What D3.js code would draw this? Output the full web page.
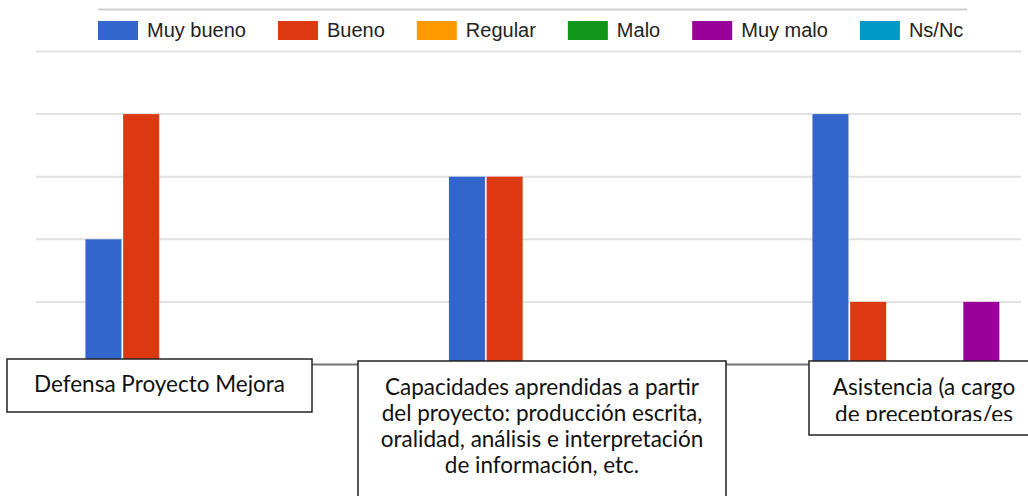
<!DOCTYPE html>
<html><head><meta charset="utf-8">
<script src="https://cdn.jsdelivr.net/npm/d3@7"></script>
<style>body{margin:0;background:#fff;overflow:hidden}</style>
</head><body>
<svg id="c" width="1028" height="496"></svg>
<script>
// ---- data ----
const categories = ["Defensa Proyecto Mejora", "Capacidades aprendidas", "Asistencia"];
const seriesNames = ["Muy bueno", "Bueno", "Regular", "Malo", "Muy malo", "Ns/Nc"];
const seriesColors = ["#3366cc", "#dc3912", "#ff9900", "#109618", "#990099", "#0099c6"];
const muyBueno = [2, 3, 4];
const bueno    = [4, 3, 1];
const regular  = [0, 0, 0];
const malo     = [0, 0, 0];
const muyMalo  = [0, 0, 1];
const nsnc     = [0, 0, 0];
const gridValues = [1, 2, 3, 4, 5];
const labelLines = [
  ["Defensa Proyecto Mejora"],
  ["Capacidades aprendidas a partir", "del proyecto: producción escrita,", "oralidad, análisis e interpretación", "de información, etc."],
  ["Asistencia (a cargo", "de preceptoras/es"]
];

const seriesValues = [muyBueno, bueno, regular, malo, muyMalo, nsnc];

const svg = d3.select("#c");
const W = 1028, H = 496;

const y = d3.scaleLinear().domain([0, 5]).range([364.5, 51.5]);
const x0 = d3.scaleBand().domain(categories).range([16, 1106.5]).padding(0);
const groupW = x0.bandwidth() * 0.618;
const x1 = d3.scaleBand().domain(seriesNames).range([0, groupW]).paddingInner(0.045).paddingOuter(0);

// top legend line
svg.append("line").attr("x1", 98).attr("x2", 967).attr("y1", 9.5).attr("y2", 9.5)
  .attr("stroke", "#cfcfcf").attr("stroke-width", 2);

// gridlines
svg.append("g").selectAll("line").data(gridValues).join("line")
  .attr("x1", 36).attr("x2", 1021)
  .attr("y1", d => y(d)).attr("y2", d => y(d))
  .attr("stroke", "#e2e2e2").attr("stroke-width", 2);

// bars
const rows = [];
categories.forEach((c, i) => seriesNames.forEach((s, j) => rows.push({c, s, v: seriesValues[j][i], col: seriesColors[j]})));
svg.append("g").selectAll("rect").data(rows.filter(d => d.v > 0)).join("rect")
  .attr("x", d => x0(d.c) + (x0.bandwidth() - groupW) / 2 + x1(d.s))
  .attr("width", x1.bandwidth())
  .attr("y", d => y(d.v))
  .attr("height", d => y(0) - y(d.v))
  .attr("fill", d => d.col);

// baseline
svg.append("line").attr("x1", 36).attr("x2", W).attr("y1", y(0)).attr("y2", y(0))
  .attr("stroke", "#757575").attr("stroke-width", 2);

// legend
const lg = svg.append("g").attr("font-family", "Liberation Sans, Arial, sans-serif").attr("font-size", 20);
let lx = 98;
seriesNames.forEach((s, j) => {
  lg.append("rect").attr("x", lx).attr("y", 21).attr("width", 40).attr("height", 19).attr("fill", seriesColors[j]);
  const t = lg.append("text").attr("x", lx + 49).attr("y", 37).attr("fill", "#222").text(s);
  lx += 49 + t.node().getComputedTextLength() + 32;
});

// label boxes
const boxes = [
  {x: 7, y: 359, w: 305, h: 53, cx: 159.5, base: [391.5], clip: null},
  {x: 358, y: 361, w: 368, h: 145, cx: 542, base: [395, 421, 447, 473], clip: null},
  {x: 809, y: 361, w: 222, h: 74, cx: 924, base: [395, 422], clip: 421}
];
const defs = svg.append("defs");
boxes.forEach((b, i) => {
  const g = svg.append("g");
  g.append("rect").attr("x", b.x).attr("y", b.y).attr("width", b.w).attr("height", b.h)
    .attr("fill", "#fff").attr("stroke", "#222").attr("stroke-width", 1.5);
  const tg = g.append("g").attr("font-family", "Lato, Carlito, Calibri, sans-serif").attr("font-size", 22.5)
    .attr("fill", "#111").attr("text-anchor", "middle");
  if (b.clip) {
    defs.append("clipPath").attr("id", "clip" + i).append("rect")
      .attr("x", b.x).attr("y", b.y).attr("width", b.w).attr("height", b.clip - b.y);
    tg.attr("clip-path", `url(#clip${i})`);
  }
  labelLines[i].forEach((line, k) => {
    tg.append("text").attr("x", b.cx).attr("y", b.base[k]).text(line);
  });
});
</script>
</body></html>
